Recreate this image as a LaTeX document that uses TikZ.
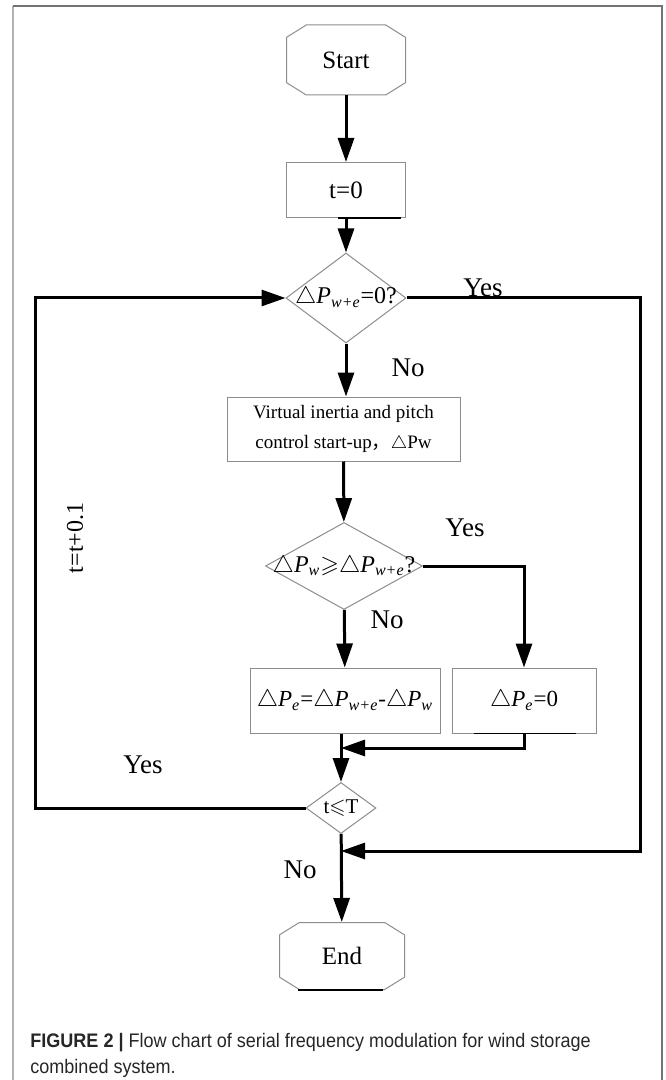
\documentclass[tikz,border=0pt]{standalone}
\usepackage{amssymb}
\usepackage{fontspec}
\setmainfont{Liberation Serif}
\newfontfamily\capfont[FakeStretch=0.92]{Liberation Sans}
\newfontfamily\cjk{Noto Sans CJK SC}
\usetikzlibrary{shapes.misc, shapes.geometric, arrows.meta}
\definecolor{boxgray}{rgb}{0.55,0.55,0.55}
\definecolor{leftgray}{rgb}{0.7,0.7,0.7}
\definecolor{rightgray}{rgb}{0.45,0.45,0.45}
\definecolor{captext}{rgb}{0.15,0.15,0.15}
\newcommand{\fs}[1]{\fontsize{#1}{#1}\selectfont}
\newcommand{\dP}[1]{$\triangle$\textit{P}\textsubscript{\textit{#1}}}

\begin{document}
\begin{tikzpicture}[x=0.5pt,y=-0.5pt,>={Triangle[length=12pt,width=8pt]}]
        \tikzstyle{flow}=[->, line width=1.5pt, black]
        \tikzstyle{term}=[chamfered rectangle, chamfered rectangle angle=58, chamfered rectangle xsep=5pt, draw=boxgray, line width=0.5pt, inner sep=0pt, font=\fs{12.5}]
        \tikzstyle{proc}=[rectangle, draw=boxgray, line width=0.5pt, inner sep=0pt, font=\fs{11.5}]
        \tikzstyle{decide}=[diamond, draw=boxgray, line width=0.5pt, inner sep=0pt]
        \tikzstyle{lbl}=[inner sep=0pt, font=\fs{13.5}]
        \useasboundingbox (0,0) rectangle (665,1080);

        % Frame
        \draw[leftgray, line width=1pt] (13,1080) -- (13,6);
        \draw[rightgray, line width=1pt] (13,6) -- (662,6) -- (662,1080);

        % Main column
        \node (start)[term, minimum width=59.5pt, minimum height=35pt] at (346,60) {Start};
        \node (t0)[proc, font=\fs{12.5}, minimum width=59.5pt, minimum height=27.5pt] at (346,190) {t=0};
        \node (d1)[decide, minimum width=60pt, minimum height=45pt,
            label={[font=\fs{12}]center:\dP{w+e}=0?}] at (346,298) {};
        \node (vir)[proc, font=\fontsize{9.5}{15}\selectfont, align=center, minimum width=116.5pt, minimum height=32pt] at (343.5,429)
            {Virtual inertia and pitch\\control start-up{\cjk ，}$\triangle$Pw};
        \node (d2)[decide, minimum width=78.5pt, minimum height=43.5pt,
            label={[font=\fs{12}]center:\dP{w}$\geqslant$\dP{w+e}?}] at (344,566) {};
        \node (b1)[proc, minimum width=95pt, minimum height=32.5pt] at (345,700.5) {\dP{e}=\dP{w+e}-\dP{w}};
        \node (b2)[proc, minimum width=72pt, minimum height=32.5pt] at (524,700.5) {\dP{e}=0};
        \node (tT)[decide, minimum width=35pt, minimum height=25.5pt,
            label={[font=\fs{10.5}]center:t$\leqslant$T}] at (341,808) {};
        \node (end)[term, minimum width=62.5pt, minimum height=33.5pt] at (342,956) {End};

        % Bend points of the loops
        \coordinate (lp) at (35,0);
        \coordinate (rp) at (640,0);
        \coordinate (mA) at (341,748);
        \coordinate (mB) at (341,851);

        % Connectors
        \draw[flow] (start) -- (t0);
        \draw[flow] (t0) -- (d1);
        \draw[flow] (d1.south) -- (d1.south |- vir.north);
        \draw[flow] (vir) -- (d2);
        \draw[flow] (d2) -- (b1);
        \draw[flow] (d2.east) -| (b2.north);
        \draw[flow] (b1.south -| tT.north) -- (tT.north);
        \draw[flow] (b2.south) |- (mA);
        \draw[flow] (tT) -- (end);
        \draw[flow] (tT.west) -- (tT.west -| lp) |- (d1.west);
        \draw[flow] (d1.east) -- (d1.east -| rp) |- (mB);

        % Dark strokes under some boxes
        \draw[line width=0.8pt] ([xshift=-4pt]t0.south) -- ([xshift=-2.5pt]t0.south east);
        \draw[line width=0.8pt] ([xshift=11pt]b2.south west) -- ([xshift=-10.5pt]b2.south east);
        \draw[line width=0.8pt] ([xshift=-22pt]end.south) -- ([xshift=20.5pt]end.south);

        % Branch labels
        \node (yes1)[lbl] at (483,288) {Yes};
        \node (no1)[lbl] at (408,368) {No};
        \node (yes2)[lbl] at (465,528) {Yes};
        \node (no2)[lbl] at (387,620) {No};
        \node (yes3)[lbl] at (143,765) {Yes};
        \node (no3)[lbl] at (300,870) {No};
        \node (incr)[lbl, font=\fs{12}, rotate=90] at (75,538) {t=t+0.1};

        % Caption
        \node (cap)[anchor=north west, align=left, inner sep=0pt, text=captext,
            font=\capfont\fontsize{9.8}{13}\selectfont] at (30,1033)
            {\textbf{FIGURE 2 |} Flow chart of serial frequency modulation for wind storage\\combined system.};
    \end{tikzpicture}
\end{document}
